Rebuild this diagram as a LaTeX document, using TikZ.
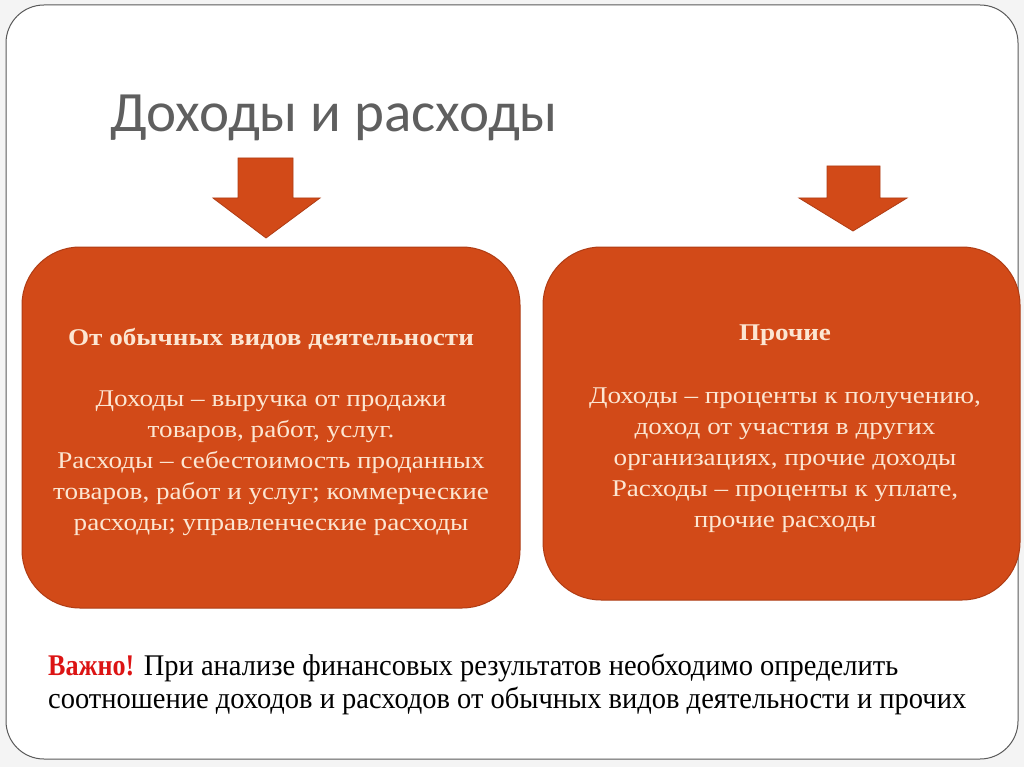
\documentclass[tikz,border=0pt]{standalone}
\usepackage{fontspec}
\setmainfont{Liberation Serif}
\newfontfamily\titlefont{Carlito}
\newfontfamily\boxfont[FakeStretch=1.13]{Liberation Serif}
\newfontfamily\notefont[FakeStretch=0.95]{Liberation Serif}
\newfontfamily\alertfont[FakeStretch=0.87]{Liberation Serif}
\definecolor{boxorange}{RGB}{210,74,24}
\definecolor{boxedge}{RGB}{175,60,20}
\definecolor{boxtext}{RGB}{252,230,210}
\definecolor{titlegray}{RGB}{95,95,95}
\definecolor{framegray}{RGB}{90,90,90}
\definecolor{pagebg}{RGB}{244,244,244}
\definecolor{alertred}{RGB}{220,20,20}
\tikzset{
  panel/.style={fill=boxorange, draw=boxedge, line width=1pt, rounded corners=58pt},
  downarrow/.style={fill=boxorange, draw=boxedge, line width=0.8pt},
  heading/.style={text=boxtext, font=\boxfont\fontsize{24}{28}\selectfont\bfseries, anchor=base},
  bodytext/.style={text=boxtext, font=\boxfont\fontsize{24}{31}\selectfont, align=center, anchor=north},
  notestyle/.style={anchor=base west, inner sep=0pt, font=\notefont\fontsize{30}{33}\selectfont},
}
\begin{document}
\begin{tikzpicture}[x=1pt,y=-1pt]
\useasboundingbox (0,0) rectangle (1024,767);
\fill[pagebg] (0,0) rectangle (1024,767);
\draw[framegray, fill=white, line width=1pt, rounded corners=38pt] (6,5) rectangle (1018,759);
% title
\node[anchor=base west, inner sep=0pt, text=titlegray, font=\titlefont\fontsize{57}{64}\selectfont] (title) at (110,132) {Доходы и расходы};
% arrows
\draw[downarrow] (238,158) -- (293,158) -- (293,198) -- (320,198) -- (266,238) -- (213,198) -- (238,198) -- cycle;
\draw[downarrow] (827,166) -- (880,166) -- (880,198) -- (907,198) -- (853,231) -- (799,198) -- (827,198) -- cycle;
% panels
\draw[panel] (22,247) rectangle (520,608);
\draw[panel] (543,247) rectangle (1020,600);
% left panel text
\node[heading] (lh) at (271,345) {От обычных видов деятельности};
\node[bodytext] (lb) at (271,387) {Доходы – выручка от продажи\\товаров, работ, услуг.\\Расходы – себестоимость проданных\\товаров, работ и услуг; коммерческие\\расходы; управленческие расходы};
% right panel text
\node[heading] (rh) at (785,340) {Прочие};
\node[bodytext] (rb) at (785,384) {Доходы – проценты к получению,\\доход от участия в других\\организациях, прочие доходы\\Расходы – проценты к уплате,\\прочие расходы};
% note
\node[notestyle] (note) at (48,675)
  {{\alertfont\color{alertred}\bfseries Важно!} При анализе финансовых результатов необходимо определить};
\node[notestyle] (note2) at (48,708)
  {соотношение доходов и расходов от обычных видов деятельности и прочих};
\end{tikzpicture}
\end{document}
